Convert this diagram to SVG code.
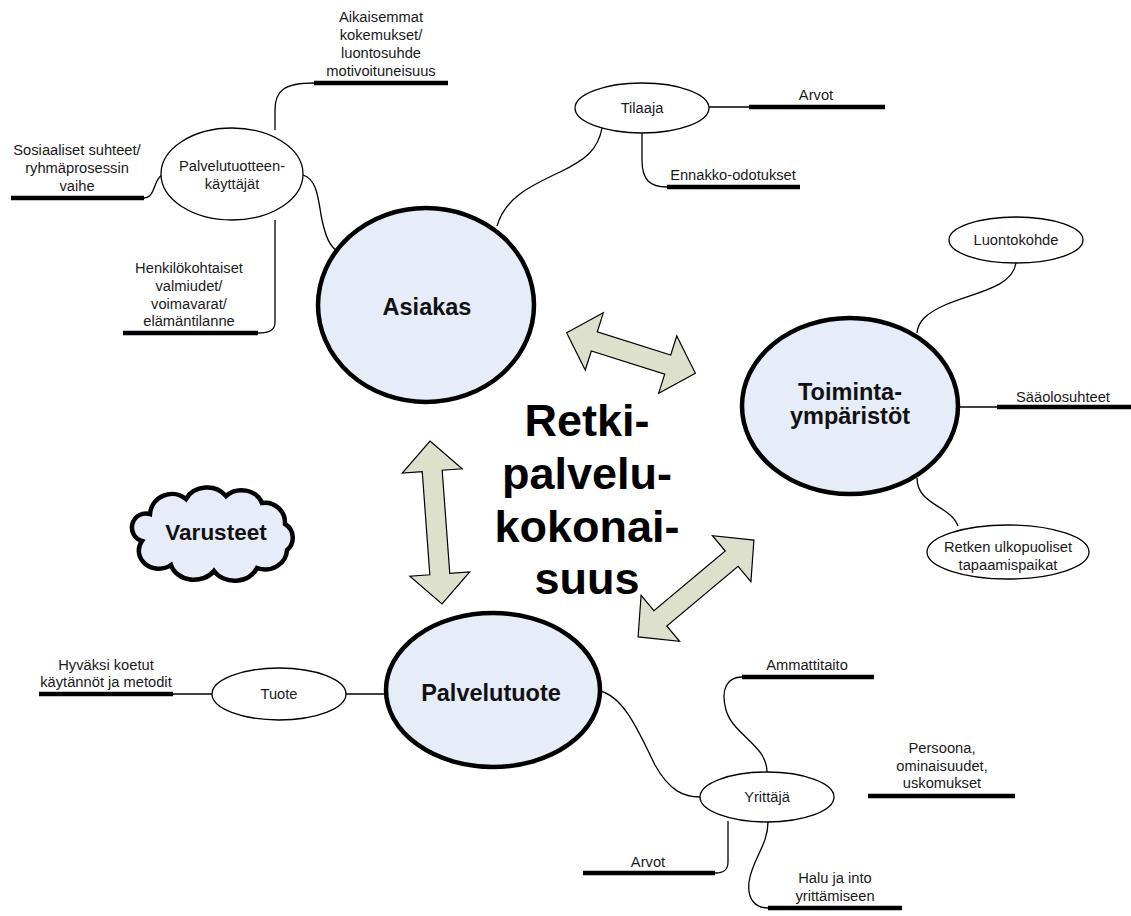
<svg xmlns="http://www.w3.org/2000/svg" width="1131" height="916" viewBox="0 0 1131 916">
<style>
.big{fill:#e6ecf8;stroke:#000;stroke-width:4.5}
.small{fill:#fff;stroke:#000;stroke-width:1.3}
.conn{fill:none;stroke:#000;stroke-width:1.3}
.bar{fill:none;stroke:#000;stroke-width:4.5}
.arrow{fill:#dde1cb;stroke:#000;stroke-width:1.2;stroke-linejoin:miter}
.t{font-family:"Liberation Sans",Arial,sans-serif;font-size:14.7px;fill:#1a1a1a;text-anchor:middle}
.tb{font-family:"Liberation Sans",Arial,sans-serif;font-size:23.5px;font-weight:bold;fill:#111;text-anchor:middle}
.tc{font-family:"Liberation Sans",Arial,sans-serif;font-size:45px;font-weight:bold;fill:#000;text-anchor:middle}
</style>
<rect width="1131" height="916" fill="#fff"/>

<g id="connectors">
  <!-- Palvelutuotteen-käyttäjät branches -->
  <path class="conn" d="M275,130 L275,110 C275,90 285,83 314,83"/>
  <path class="bar" d="M314,83 L448,83"/>
  <path class="conn" d="M144,198 C156,197 153,180 162,175"/>
  <path class="bar" d="M11,198 L144,198"/>
  <path class="conn" d="M275,220 L275,322 C275,330 270,333 258,333"/>
  <path class="bar" d="M123,333 L258,333"/>
  <path class="conn" d="M303,175 C318,180 318,200 322,220 C326,238 330,246 337,251"/>
  <!-- Tilaaja branches -->
  <path class="conn" d="M602,128 C598,150 585,160 560,172 C530,186 505,198 497,226"/>
  <path class="conn" d="M709,107 L749,107"/>
  <path class="bar" d="M749,107 L885,107"/>
  <path class="conn" d="M642,133 L642,160 C642,180 650,187 667,187"/>
  <path class="bar" d="M667,187 L800,187"/>
  <!-- Toimintaympäristöt branches -->
  <path class="conn" d="M1016,263 C1012,288 975,292 945,305 C925,314 918,322 917,333"/>
  <path class="conn" d="M959,407 L997,407"/>
  <path class="bar" d="M997,407 L1131,407"/>
  <path class="conn" d="M917,478 C917,505 950,505 958,526"/>
  <!-- Palvelutuote branches -->
  <path class="conn" d="M346,694 L386,694"/>
  <path class="conn" d="M173,694 L212,694"/>
  <path class="bar" d="M39,694 L173,694"/>
  <path class="conn" d="M600,691 C625,697 640,735 655,765 C670,792 685,797 700,797"/>
  <!-- Yrittäjä branches -->
  <path class="conn" d="M767,772 C767,745 733,735 726,710 C720,688 728,677 742,677"/>
  <path class="bar" d="M742,677 L874,677"/>
  <path class="bar" d="M868,796 L1015,796"/>
  <path class="conn" d="M728,821 L728,862 C728,870 724,873 715,873"/>
  <path class="bar" d="M583,873 L715,873"/>
  <path class="conn" d="M768,822 C768,845 752,860 749,882 C747,900 756,908 768,908"/>
  <path class="bar" d="M768,908 L902,908"/>
  <!-- double block arrows -->
  <polygon class="arrow" transform="translate(631,353) rotate(17.5)" points="-67.5,0 -38.5,-30 -38.5,-10 38.5,-10 38.5,-30 67.5,0 38.5,30 38.5,10 -38.5,10 -38.5,30"/>
  <polygon class="arrow" transform="translate(436,522.5) rotate(85.8)" points="-81.7,0 -51.7,-30 -51.7,-10 51.7,-10 51.7,-30 81.7,0 51.7,30 51.7,10 -51.7,10 -51.7,30"/>
  <polygon class="arrow" transform="translate(696,588.5) rotate(-39.9)" points="-75.5,0 -46.5,-30 -46.5,-10 46.5,-10 46.5,-30 75.5,0 46.5,30 46.5,10 -46.5,10 -46.5,30"/>
</g>

<g id="center-title">
  <text class="tc" x="587" y="436">Retki-</text>
  <text class="tc" x="587" y="489">palvelu-</text>
  <text class="tc" x="587" y="542">kokonai-</text>
  <text class="tc" x="587" y="594">suus</text>
</g>

<g id="asiakas">
  <ellipse class="big" cx="426" cy="305" rx="108" ry="97"/>
  <text class="tb" x="427" y="315">Asiakas</text>
</g>
<g id="toimintaymparistot">
  <ellipse class="big" cx="850" cy="406" rx="108" ry="88"/>
  <text class="tb" x="850" y="400">Toiminta-</text>
  <text class="tb" x="850" y="424">ympäristöt</text>
</g>
<g id="palvelutuote">
  <ellipse class="big" cx="493" cy="690" rx="107" ry="77"/>
  <text class="tb" x="491" y="701">Palvelutuote</text>
</g>
<g id="varusteet">
  <path class="big" stroke-width="3.5" d="M150,514 A22,22 0 0 1 186,499 A24,22 0 0 1 226,496 A22,20 0 0 1 262,503 A20,20 0 0 1 285,524 A16,16 0 0 1 287,550 A22,20 0 0 1 257,568 A24,20 0 0 1 214,571 A24,20 0 0 1 171,565 A20,18 0 0 1 142,541 A14,14 0 0 1 150,514 Z"/>
  <text class="tb" style="font-size:22.5px" x="216" y="540">Varusteet</text>
</g>

<g id="palvelutuotteen-kayttajat">
  <ellipse class="small" cx="232" cy="174" rx="71" ry="46"/>
  <text class="t" x="232" y="171">Palvelutuotteen-</text>
  <text class="t" x="232" y="189">käyttäjät</text>
</g>
<g id="aikaisemmat">
  <text class="t" x="381" y="22">Aikaisemmat</text>
  <text class="t" x="381" y="40">kokemukset/</text>
  <text class="t" x="381" y="58">luontosuhde</text>
  <text class="t" x="381" y="76">motivoituneisuus</text>
</g>
<g id="sosiaaliset">
  <text class="t" x="77" y="155">Sosiaaliset suhteet/</text>
  <text class="t" x="77" y="173">ryhmäprosessin</text>
  <text class="t" x="77" y="191">vaihe</text>
</g>
<g id="henkilokohtaiset">
  <text class="t" x="189" y="273">Henkilökohtaiset</text>
  <text class="t" x="189" y="291">valmiudet/</text>
  <text class="t" x="189" y="309">voimavarat/</text>
  <text class="t" x="189" y="326">elämäntilanne</text>
</g>

<g id="tilaaja">
  <ellipse class="small" cx="642" cy="108" rx="67" ry="25"/>
  <text class="t" x="642" y="113">Tilaaja</text>
</g>
<g id="arvot-tilaaja"><text class="t" x="816" y="100">Arvot</text></g>
<g id="ennakko"><text class="t" x="733" y="180">Ennakko-odotukset</text></g>

<g id="luontokohde">
  <ellipse class="small" cx="1016" cy="240" rx="67" ry="23"/>
  <text class="t" x="1016" y="245">Luontokohde</text>
</g>
<g id="saaolosuhteet"><text class="t" x="1063" y="402">Sääolosuhteet</text></g>
<g id="retken">
  <ellipse class="small" cx="1008" cy="552" rx="81" ry="27"/>
  <text class="t" x="1008" y="552">Retken ulkopuoliset</text>
  <text class="t" x="1008" y="570">tapaamispaikat</text>
</g>

<g id="tuote">
  <ellipse class="small" cx="279" cy="694" rx="67" ry="26"/>
  <text class="t" x="279" y="699">Tuote</text>
</g>
<g id="hyvaksi">
  <text class="t" x="106" y="670">Hyväksi koetut</text>
  <text class="t" x="106" y="687">käytännöt ja metodit</text>
</g>

<g id="yrittaja">
  <ellipse class="small" cx="767" cy="797" rx="67" ry="25"/>
  <text class="t" x="767" y="802">Yrittäjä</text>
</g>
<g id="ammattitaito"><text class="t" x="807" y="670">Ammattitaito</text></g>
<g id="persoona">
  <text class="t" x="942" y="753">Persoona,</text>
  <text class="t" x="942" y="771">ominaisuudet,</text>
  <text class="t" x="942" y="788">uskomukset</text>
</g>
<g id="arvot-yrittaja"><text class="t" x="648" y="867">Arvot</text></g>
<g id="halu">
  <text class="t" x="835" y="883">Halu ja into</text>
  <text class="t" x="835" y="901">yrittämiseen</text>
</g>
</svg>
